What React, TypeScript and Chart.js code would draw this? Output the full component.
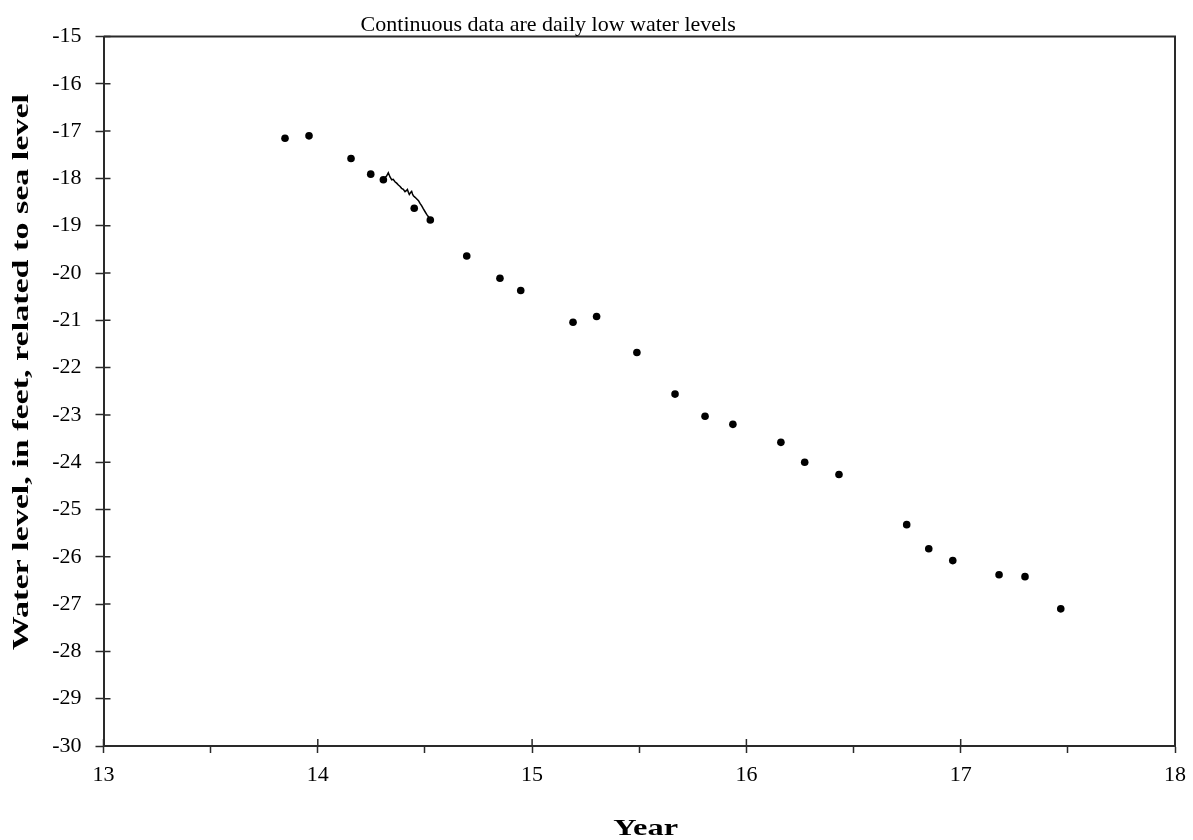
import React, { useEffect, useRef } from "react";
import { Chart, registerables } from "chart.js";

Chart.register(...registerables);

const chartTitle = "Continuous data are daily low water levels";
const xTitle = "Year";
const yTitle = "Water level, in feet, related to sea level";

// Periodic (discrete) measurements: year (decimal, 2-digit) and level
const discreteYears = [
  13.847, 13.959, 14.155, 14.247, 14.306, 14.45, 14.525, 14.695, 14.85, 14.947,
  15.191, 15.301, 15.489, 15.667, 15.807, 15.937, 16.161, 16.272, 16.432, 16.748,
  16.851, 16.963, 17.179, 17.3, 17.467,
];
const discreteLevels = [
  -17.15, -17.1, -17.58, -17.91, -18.03, -18.63, -18.88, -19.64, -20.11, -20.37,
  -21.04, -20.92, -21.68, -22.56, -23.03, -23.2, -23.58, -24.0, -24.26, -25.32,
  -25.83, -26.08, -26.38, -26.42, -27.1,
];

// Continuous daily low water levels
const dailyYears = [
  14.309, 14.321, 14.329, 14.337, 14.345, 14.352, 14.36, 14.368, 14.376, 14.384,
  14.391, 14.399, 14.407, 14.413, 14.418, 14.423, 14.427, 14.433, 14.438, 14.442,
  14.446, 14.454, 14.462, 14.47, 14.477, 14.485, 14.492, 14.5, 14.508, 14.518, 14.527,
];
const dailyLevels = [
  -18.0, -17.95, -17.88, -17.97, -18.03, -18.02, -18.07, -18.1, -18.14, -18.17,
  -18.21, -18.23, -18.28, -18.26, -18.235, -18.3, -18.34, -18.3, -18.277, -18.33,
  -18.37, -18.4, -18.435, -18.47, -18.53, -18.58, -18.64, -18.7, -18.76, -18.82, -18.88,
];

const xMin = 13;
const xMax = 18;
const yMin = -30;
const yMax = -15;

const SERIF = "'Liberation Serif', 'Times New Roman', serif";
const AXIS_COLOR = "#2a2a2a";

export default function App() {
  const canvasRef = useRef<HTMLCanvasElement | null>(null);

  useEffect(() => {
    if (!canvasRef.current) return;

    const decorPlugin = {
      id: "decor",
      afterDraw(chart: any) {
        const { ctx, chartArea } = chart;
        const xs = chart.scales.x;
        const ys = chart.scales.y;
        const w = chartArea.right - chartArea.left;
        const h = chartArea.bottom - chartArea.top;
        ctx.save();
        ctx.strokeStyle = AXIS_COLOR;
        ctx.lineWidth = 2;
        // top and right frame
        ctx.beginPath();
        ctx.moveTo(chartArea.left, chartArea.top);
        ctx.lineTo(chartArea.right, chartArea.top);
        ctx.lineTo(chartArea.right, chartArea.bottom);
        ctx.stroke();
        // inward halves of major ticks
        ctx.lineWidth = 1.5;
        ctx.beginPath();
        ys.ticks.forEach((t: any) => {
          const py = ys.getPixelForValue(t.value);
          ctx.moveTo(chartArea.left, py);
          ctx.lineTo(chartArea.left + 7, py);
        });
        xs.ticks.forEach((t: any) => {
          if (Math.abs(t.value - Math.round(t.value)) < 1e-6) {
            const px = xs.getPixelForValue(t.value);
            ctx.moveTo(px, chartArea.bottom);
            ctx.lineTo(px, chartArea.bottom - 7);
          }
        });
        ctx.stroke();
        ctx.fillStyle = "#000";
        ctx.textAlign = "center";
        ctx.textBaseline = "alphabetic";
        // chart title
        ctx.font = `22px ${SERIF}`;
        ctx.fillText(chartTitle, chartArea.left + w * 0.415, chartArea.top - 5.5);
        // x axis title
        ctx.save();
        ctx.translate(chartArea.left + w * 0.506, chartArea.bottom + 89);
        ctx.scale(1.35, 1);
        ctx.font = `bold 24px ${SERIF}`;
        ctx.fillText(xTitle, 0, 0);
        ctx.restore();
        // y axis title
        ctx.save();
        ctx.translate(22, chartArea.top + h * 0.473);
        ctx.rotate(-Math.PI / 2);
        ctx.scale(1.48, 1);
        ctx.font = `bold 23px ${SERIF}`;
        ctx.textBaseline = "middle";
        ctx.fillText(yTitle, 0, 0);
        ctx.restore();
        ctx.restore();
      },
    };

    const chart = new Chart(canvasRef.current, {
      type: "scatter",
      data: {
        datasets: [
          {
            label: "Daily low",
            data: dailyYears.map((x, i) => ({ x, y: dailyLevels[i] })),
            showLine: true,
            borderColor: "#000",
            borderWidth: 1.5,
            pointRadius: 0,
            tension: 0,
          },
          {
            label: "Periodic",
            data: discreteYears.map((x, i) => ({ x, y: discreteLevels[i] })),
            showLine: false,
            backgroundColor: "#000",
            borderColor: "#000",
            pointRadius: 3.8,
            pointBorderWidth: 0,
          },
        ],
      },
      options: {
        animation: false,
        responsive: true,
        maintainAspectRatio: false,
        layout: { padding: { top: 36.5, right: 18, left: 0, bottom: 0 } },
        plugins: {
          legend: { display: false },
          tooltip: { enabled: false },
          title: { display: false },
        },
        scales: {
          x: {
            type: "linear",
            min: xMin,
            max: xMax,
            afterFit(scale: any) {
              scale.height = 94;
              scale.paddingLeft = 0;
              scale.paddingRight = 0;
            },
            ticks: {
              stepSize: 0.5,
              autoSkip: false,
              maxRotation: 0,
              padding: 9,
              color: "#000",
              font: { family: SERIF, size: 22 },
              callback: (v: any) => (Math.abs(v - Math.round(v)) < 1e-6 ? String(Math.round(v)) : ""),
            },
            grid: {
              drawOnChartArea: false,
              drawTicks: true,
              tickLength: 7,
              tickColor: AXIS_COLOR,
              tickWidth: 1.5,
            },
            border: { display: true, color: AXIS_COLOR, width: 2 },
          },
          y: {
            type: "linear",
            min: yMin,
            max: yMax,
            afterFit(scale: any) {
              scale.width = 103.5;
              scale.paddingTop = 0;
              scale.paddingBottom = 0;
            },
            ticks: {
              stepSize: 1,
              autoSkip: false,
              padding: 14,
              color: "#000",
              font: { family: SERIF, size: 22 },
            },
            grid: {
              drawOnChartArea: false,
              drawTicks: true,
              tickLength: 8,
              tickColor: AXIS_COLOR,
              tickWidth: 1.5,
            },
            border: { display: true, color: AXIS_COLOR, width: 2 },
          },
        },
      },
      plugins: [decorPlugin],
    });

    return () => chart.destroy();
  }, []);

  return (
    <div style={{ position: "absolute", left: 0, top: 0, width: 1193, height: 840 }}>
      <canvas ref={canvasRef} />
    </div>
  );
}
